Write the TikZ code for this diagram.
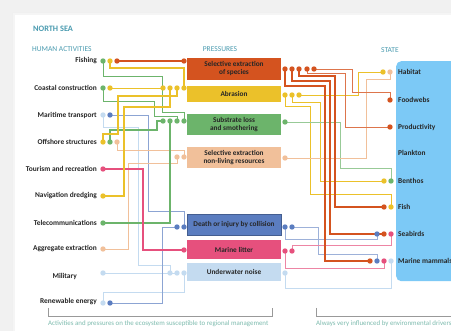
\documentclass[tikz,border=0pt]{standalone}
\usepackage{fontspec}
\setmainfont{Carlito}
\definecolor{cOr}{HTML}{D4531F}
\definecolor{cYe}{HTML}{EBC12A}
\definecolor{cGr}{HTML}{6CB46B}
\definecolor{cPe}{HTML}{F1C09A}
\definecolor{cBl}{HTML}{5B7DC0}
\definecolor{cPi}{HTML}{E6507D}
\definecolor{cLb}{HTML}{C4DBF0}
\definecolor{cSt}{HTML}{7CC9F6}
\definecolor{cTeal}{HTML}{4A9BB0}
\definecolor{cFoot}{HTML}{7DBBAE}
\definecolor{cBg}{HTML}{F1F1F1}
\begin{document}
\begin{tikzpicture}[x=1pt,y=-1pt,
  dot/.style={circle,fill=#1,inner sep=0pt,minimum size=5.4pt},
  act/.style={anchor=east,inner sep=0pt,font=\fontsize{7.4}{8}\selectfont\bfseries,text=black!85},
  stl/.style={anchor=west,inner sep=0pt,font=\fontsize{7.4}{8}\selectfont\bfseries,text=black!85},
  pbox/.style={fill=#1,minimum width=94pt,inner sep=0pt,align=center,font=\fontsize{7.3}{8}\selectfont\bfseries,text=black!85},
  hdr/.style={anchor=west,inner sep=0pt,font=\fontsize{7.5}{8}\selectfont,text=cTeal},
  foot/.style={anchor=west,inner sep=0pt,font=\fontsize{6.9}{8}\selectfont,text=cFoot},
  thn/.style={line width=0.6pt},
  mid/.style={line width=1.1pt},
  thk/.style={line width=1.8pt},
  brk/.style={line width=0.5pt,draw=black!40}]
\useasboundingbox (0,0) rectangle (451,331);
% background and card
\fill[cBg] (0,0) rectangle (451,331);
\fill[black!6] (12,12) rectangle (460,340);
\fill[black!4] (13,13) rectangle (460,340);
\fill[white] (15,15) rectangle (460,340);
% titles
\node[hdr,font=\fontsize{8.3}{9}\selectfont\bfseries] (title) at (33,29) {NORTH SEA};
\node[hdr] (hAct) at (32,49) {HUMAN ACTIVITIES};
\node[hdr,anchor=center] (hPr) at (220,49) {PRESSURES};
\node[hdr,anchor=center] (hSt) at (390,50) {STATE};
% state panel
\node[fill=cSt,rounded corners=5pt,minimum width=80pt,minimum height=220pt,anchor=north west,inner sep=0pt] (state) at (396,61) {};
% pressure boxes
\node[pbox=cOr,minimum height=22pt] (bS) at (234,69) {Selective extraction\\of species};
\node[pbox=cYe,minimum height=16pt] (bA) at (234,94) {Abrasion};
\node[pbox=cGr,minimum height=21pt] (bB) at (234,124.5) {Substrate loss\\and smothering};
\node[pbox=cPe,minimum height=21pt] (bN) at (234,157.5) {Selective extraction\\non-living resources};
\node[pbox=cBl,draw=cBl!75!black,line width=0.5pt,minimum height=21pt] (bC) at (234,225) {Death or injury by collision};
\node[pbox=cPi,minimum height=19pt] (bL) at (234,249.5) {Marine litter};
\node[pbox=cLb,minimum height=18pt] (bZ) at (234,272) {Underwater noise};
% activity labels
\node[act] (lFish) at (97,61) {Fishing};
\node[act] (lCoast) at (97,88) {Coastal construction};
\node[act] (lMar) at (97,115) {Maritime transport};
\node[act] (lOff) at (97,142) {Offshore structures};
\node[act] (lTour) at (97,169) {Tourism and recreation};
\node[act] (lNav) at (97,196) {Navigation dredging};
\node[act] (lTel) at (97,223) {Telecommunications};
\node[act] (lAgg) at (97,249) {Aggregate extraction};
\node[act] (lMil) at (77,276) {Military};
\node[act] (lRen) at (97,302) {Renewable energy};
% state labels
\node[stl] (tHab) at (398,72) {Habitat};
\node[stl] (tFood) at (398,100) {Foodwebs};
\node[stl] (tProd) at (398,127) {Productivity};
\node[stl] (tPlank) at (398,153) {Plankton};
\node[stl] (tBen) at (398,181) {Benthos};
\node[stl] (tFish) at (398,207) {Fish};
\node[stl] (tSea) at (398,234) {Seabirds};
\node[stl] (tMam) at (398,261) {Marine mammals};
% dot coordinates (activities)
\coordinate (a1g) at (103,61); \coordinate (a1y) at (110,61); \coordinate (a1o) at (117,61);
\coordinate (a2g) at (103,88); \coordinate (a2y) at (110,88);
\coordinate (a3l) at (103,115); \coordinate (a3b) at (110,115);
\coordinate (a4y) at (103,142); \coordinate (a4g) at (110,142); \coordinate (a4p) at (117,142);
\coordinate (a5k) at (103,169);
\coordinate (a6y) at (103,196);
\coordinate (a7g) at (103,223);
\coordinate (a8p) at (103,249);
\coordinate (a9l) at (103,273);
\coordinate (a10l) at (103,303); \coordinate (a10b) at (110,303);
% pressure left dots
\coordinate (pS) at (184,61);
\coordinate (pA1) at (163,88); \coordinate (pA2) at (170,88); \coordinate (pA3) at (177,88); \coordinate (pA4) at (184,88);
\coordinate (pB1) at (163,121); \coordinate (pB2) at (170,121); \coordinate (pB3) at (177,121); \coordinate (pB4) at (184,121);
\coordinate (pN1) at (177,157); \coordinate (pN2) at (184,157);
\coordinate (pC1) at (177,227); \coordinate (pC2) at (184,227);
\coordinate (pL) at (184,250);
\coordinate (pZ1) at (170,273); \coordinate (pZ2) at (177,273); \coordinate (pZ3) at (184,273);
% pressure right dots
\coordinate (qS1) at (285,69); \coordinate (qS2) at (292,69); \coordinate (qS3) at (299,69); \coordinate (qS4) at (307,69); \coordinate (qS5) at (314,69);
\coordinate (qA1) at (285,95); \coordinate (qA2) at (292,95); \coordinate (qA3) at (299,95);
\coordinate (qB) at (285,122);
\coordinate (qN) at (285,158);
\coordinate (qC1) at (285,227); \coordinate (qC2) at (292,227);
\coordinate (qL1) at (285,251); \coordinate (qL2) at (292,251);
\coordinate (qZ) at (285,273);
% state dots
\coordinate (sH1) at (383,72); \coordinate (sH2) at (390,72);
\coordinate (sF) at (390,100);
\coordinate (sP) at (390,127);
\coordinate (sB1) at (384,181); \coordinate (sB2) at (391,181);
\coordinate (sFi1) at (384,207); \coordinate (sFi2) at (391,207);
\coordinate (sSb1) at (377,234); \coordinate (sSb2) at (384,234); \coordinate (sSb3) at (391,234);
\coordinate (sM1) at (370,261); \coordinate (sM2) at (377,261); \coordinate (sM3) at (384,261); \coordinate (sM4) at (391,261);
% connectors: activities -> pressures
\draw[thn,cGr] (a1g) -- (103,76) -- (162,76) -- (162,112) -- (184,112) -- (pB4);
\draw[thn,cGr] (a2g) -- (103,101) -- (154,101) -- (154,116) -- (177,116) -- (pB3);
\draw[thn,cLb] (a3l) -- (103,127) -- (138,127) -- (138,265) -- (170,265) -- (pZ1);
\draw[thn,cBl!70] (a3b) -- (148,115) -- (148,211) -- (184,211) -- (pC2);
\draw[thn,cPe] (a4p) -- (117,150) -- (184,150) -- (pN2);
\draw[thn,cPe] (a8p) -- (128,249) -- (128,163) -- (177,163) -- (pN1);
\draw[thn,cLb] (a9l) -- (pZ2);
\draw[thn,cLb] (a10l) -- (103,292) -- (184,292) -- (pZ3);
\draw[thn,cBl!70] (a10b) -- (162,303) -- (162,227) -- (pC1);
\draw[thn,cYe] (a2y) -- (pA1);
\draw[mid,cGr] (a7g) -- (170,223) -- (pB2);
\draw[mid,cPi] (a5k) -- (143,169) -- (143,250) -- (pL);
\draw[mid,cGr] (a4g) -- (110,130) -- (157,130) -- (157,121) -- (pB1);
\draw[thk,cYe] (a6y) -- (124,196) -- (124,107) -- (170,107) -- (pA2);
\draw[thk,cYe] (a4y) -- (103,134) -- (118,134) -- (118,96) -- (177,96) -- (pA3);
\draw[thk,cYe] (a1y) -- (110,68) -- (184,68) -- (pA4);
\draw[thk,cOr] (a1o) -- (pS);
% connectors: pressures -> state
\draw[thn,cYe] (qA3) -- (358,95) -- (358,72) -- (sH1);
\draw[thn,cYe] (qA2) -- (292,102) -- (320,102) -- (320,181) -- (sB1);
\draw[thn,cYe] (qA1) -- (285,106) -- (310,106) -- (310,194) -- (391,194) -- (sFi2);
\draw[thn,cGr!70] (qB) -- (340,122) -- (340,168) -- (391,168) -- (sB2);
\draw[thn,cPe] (qN) -- (366,158) -- (366,79) -- (390,79) -- (sH2);
\draw[thn,cBl!60] (qC1) -- (285,239) -- (377,239) -- (sSb1);
\draw[thn,cBl!60] (qC2) -- (318,227) -- (318,254) -- (377,254) -- (sM2);
\draw[thn,cPi!70] (qL2) -- (292,245) -- (391,245) -- (sSb3);
\draw[thn,cPi!70] (qL1) -- (285,268) -- (384,268) -- (sM3);
\draw[thn,cLb] (qZ) -- (285,288) -- (391,288) -- (sM4);
\draw[thn,cOr!80] (qS5) -- (352,69) -- (352,92) -- (390,92) -- (sF);
\draw[thn,cOr!80] (qS4) -- (307,73) -- (345,73) -- (345,127) -- (sP);
\draw[mid,cOr] (qS1) -- (285,86) -- (325,86) -- (325,261) -- (sM1);
\draw[mid,cOr] (qS2) -- (292,81) -- (330,81) -- (330,234) -- (sSb2);
\draw[line width=2.4pt,cOr] (qS3) -- (299,76) -- (335,76) -- (335,207) -- (sFi1);
% dots
\foreach \n/\c in {a1g/cGr,a1y/cYe,a1o/cOr,a2g/cGr,a2y/cYe,a3l/cLb,a3b/cBl,a4y/cYe,a4g/cGr,a4p/cPe,a5k/cPi,a6y/cYe,a7g/cGr,a8p/cPe,a9l/cLb,a10l/cLb,a10b/cBl,
  pS/cOr,pA1/cYe,pA2/cYe,pA3/cYe,pA4/cYe,pB1/cGr,pB2/cGr,pB3/cGr,pB4/cGr,pN1/cPe,pN2/cPe,pC1/cBl,pC2/cBl,pL/cPi,pZ1/cLb,pZ2/cLb,pZ3/cLb,
  qS1/cOr,qS2/cOr,qS3/cOr,qS4/cOr,qS5/cOr,qA1/cYe,qA2/cYe,qA3/cYe,qB/cGr,qN/cPe,qC1/cBl,qC2/cBl,qL1/cPi,qL2/cPi,qZ/cLb,
  sH1/cYe,sH2/cPe,sF/cOr,sP/cOr,sB1/cYe,sB2/cGr,sFi1/cOr,sFi2/cYe,sSb1/cBl,sSb2/cOr,sSb3/cPi,sM1/cOr,sM2/cBl,sM3/cPi,sM4/cLb}
  {\node[dot=\c] (d\n) at (\n) {};}
% footer brackets
\coordinate (k1) at (48,308); \coordinate (k2) at (272,308); \coordinate (k3) at (316,308); \coordinate (k4) at (460,316);
\draw[brk] (k1) -- (48,316) -- (272,316) -- (k2);
\draw[brk] (k3) -- (316,316) -- (k4);
\node[foot] (f1) at (48,324) {Activities and pressures on the ecosystem susceptible to regional management};
\node[foot] (f2) at (316,324) {Always very influenced by environmental drivers};
\end{tikzpicture}
\end{document}
